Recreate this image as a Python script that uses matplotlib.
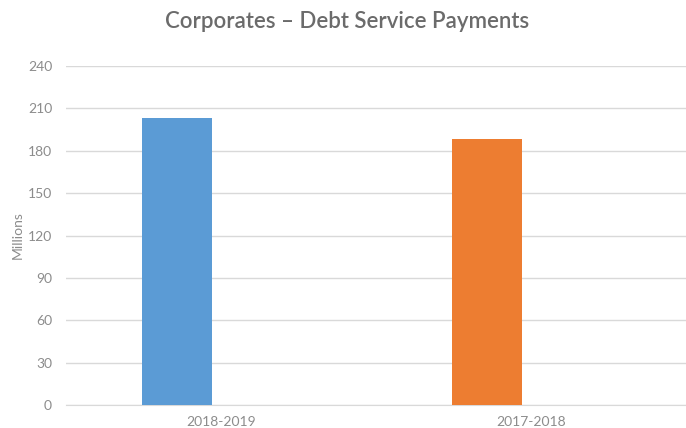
import numpy as np
import matplotlib
matplotlib.use('Agg')
from matplotlib import pyplot as plt

categories = ['2018-2019', '2017-2018']
values = [203.2, 188.3]
colors = ['#5b9bd5', '#ed7d31']
yticks = [0, 30, 60, 90, 120, 150, 180, 210, 240]

plt.rcParams['font.family'] = ['Lato', 'DejaVu Sans']

fig = plt.figure(figsize=(6.86, 4.28), dpi=100)
ax = fig.add_axes([66 / 686, 1 - 405 / 428, 1 - 66 / 686, (405 - 66) / 428])

x = np.arange(len(categories))
ax.bar(x - 0.142, values, width=0.226, color=colors, zorder=3)

ax.set_xlim(-0.5, len(categories) - 0.5)
ax.set_ylim(0, 240)
ax.set_yticks(yticks)
ax.set_xticks(x)
ax.set_xticklabels(categories)
ax.grid(axis='y', color='#d9d9d9', linewidth=1, zorder=0)
for side in ['top', 'right', 'left']:
    ax.spines[side].set_visible(False)
ax.spines['bottom'].set_color('#d9d9d9')
ax.tick_params(axis='both', length=0, colors='#8c8c8c', labelsize=10)
ax.tick_params(axis='y', pad=10)
ax.tick_params(axis='x', pad=8)
ax.set_ylabel('Millions', color='#8c8c8c', fontsize=10)
ax.yaxis.set_label_coords(-(66 - 24) / 620, 0.5)

fig.text(347 / 686, 1 - 21 / 428, 'Corporates – Debt Service Payments',
         ha='center', va='center', fontsize=16, fontweight='semibold', color='#6b6b6b')

fig.savefig('out.png', dpi=100)
